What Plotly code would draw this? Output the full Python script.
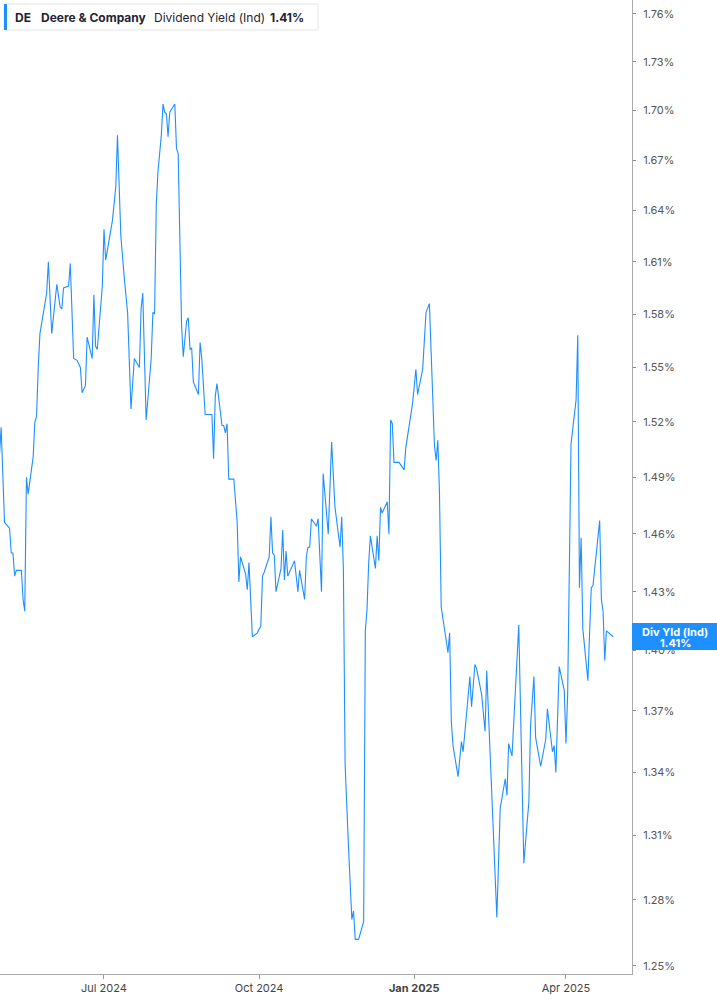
import plotly.graph_objects as go

# DE dividend yield (Ind)
dates = [
    "2024-04-30", "2024-05-01", "2024-05-03", "2024-05-06", "2024-05-07", "2024-05-08",
    "2024-05-09", "2024-05-10", "2024-05-13", "2024-05-14", "2024-05-15", "2024-05-16",
    "2024-05-17", "2024-05-20", "2024-05-21", "2024-05-22", "2024-05-23", "2024-05-24",
    "2024-05-28", "2024-05-29", "2024-05-31", "2024-06-03", "2024-06-05", "2024-06-06",
    "2024-06-07", "2024-06-10", "2024-06-11", "2024-06-13", "2024-06-15", "2024-06-17",
    "2024-06-18", "2024-06-20", "2024-06-21", "2024-06-24", "2024-06-25", "2024-06-26",
    "2024-06-27", "2024-06-30", "2024-07-01", "2024-07-02", "2024-07-06", "2024-07-08",
    "2024-07-09", "2024-07-11", "2024-07-13", "2024-07-15", "2024-07-17", "2024-07-19",
    "2024-07-22", "2024-07-23", "2024-07-24", "2024-07-26", "2024-07-29", "2024-07-30",
    "2024-07-31", "2024-08-01", "2024-08-02", "2024-08-04", "2024-08-05", "2024-08-06",
    "2024-08-07", "2024-08-08", "2024-08-09", "2024-08-12", "2024-08-13", "2024-08-14",
    "2024-08-16", "2024-08-17", "2024-08-19", "2024-08-20", "2024-08-21", "2024-08-22",
    "2024-08-23", "2024-08-26", "2024-08-27", "2024-08-28", "2024-08-30", "2024-09-03",
    "2024-09-04", "2024-09-05", "2024-09-06", "2024-09-09", "2024-09-10", "2024-09-11",
    "2024-09-12", "2024-09-13", "2024-09-16", "2024-09-18", "2024-09-19", "2024-09-20",
    "2024-09-23", "2024-09-24", "2024-09-25", "2024-09-27", "2024-09-30", "2024-10-01",
    "2024-10-02", "2024-10-03", "2024-10-04", "2024-10-07", "2024-10-08", "2024-10-09",
    "2024-10-10", "2024-10-11", "2024-10-14", "2024-10-15", "2024-10-16", "2024-10-17",
    "2024-10-18", "2024-10-22", "2024-10-24", "2024-10-25", "2024-10-28", "2024-10-29",
    "2024-10-30", "2024-10-31", "2024-11-01", "2024-11-04", "2024-11-05", "2024-11-07",
    "2024-11-08", "2024-11-11", "2024-11-13", "2024-11-15", "2024-11-18", "2024-11-19",
    "2024-11-20", "2024-11-21", "2024-11-23", "2024-11-25", "2024-11-26", "2024-11-27",
    "2024-11-29", "2024-12-02", "2024-12-03", "2024-12-04", "2024-12-05", "2024-12-06",
    "2024-12-09", "2024-12-10", "2024-12-11", "2024-12-12", "2024-12-13", "2024-12-16",
    "2024-12-17", "2024-12-18", "2024-12-19", "2024-12-20", "2024-12-23", "2024-12-26",
    "2024-12-27", "2024-12-30", "2024-12-31", "2025-01-02", "2025-01-03", "2025-01-06",
    "2025-01-08", "2025-01-10", "2025-01-12", "2025-01-13", "2025-01-14", "2025-01-15",
    "2025-01-16", "2025-01-17", "2025-01-20", "2025-01-21", "2025-01-22", "2025-01-23",
    "2025-01-24", "2025-01-27", "2025-01-29", "2025-01-30", "2025-02-03", "2025-02-04",
    "2025-02-06", "2025-02-07", "2025-02-10", "2025-02-12", "2025-02-13", "2025-02-15",
    "2025-02-19", "2025-02-21", "2025-02-24", "2025-02-25", "2025-02-26", "2025-02-28",
    "2025-03-04", "2025-03-07", "2025-03-10", "2025-03-11", "2025-03-13", "2025-03-14",
    "2025-03-17", "2025-03-20", "2025-03-21", "2025-03-24", "2025-03-25", "2025-03-26",
    "2025-03-28", "2025-03-31", "2025-04-01", "2025-04-02", "2025-04-03", "2025-04-04",
    "2025-04-07", "2025-04-08", "2025-04-09", "2025-04-10", "2025-04-11", "2025-04-14",
    "2025-04-16", "2025-04-17", "2025-04-21", "2025-04-22", "2025-04-23", "2025-04-24",
    "2025-04-25", "2025-04-29",
]
div_yield = [
    1.502, 1.517, 1.466, 1.463, 1.450, 1.450, 1.438, 1.441, 1.441, 1.426, 1.420, 1.490,
    1.481, 1.501, 1.520, 1.523, 1.550, 1.569, 1.592, 1.610, 1.569, 1.597, 1.584, 1.583,
    1.595, 1.596, 1.609, 1.555, 1.554, 1.550, 1.536, 1.540, 1.567, 1.555, 1.591, 1.562,
    1.560, 1.596, 1.629, 1.611, 1.634, 1.654, 1.685, 1.625, 1.601, 1.581, 1.527, 1.555,
    1.550, 1.583, 1.592, 1.521, 1.555, 1.581, 1.580, 1.643, 1.663, 1.685, 1.704, 1.699,
    1.698, 1.684, 1.699, 1.704, 1.677, 1.674, 1.574, 1.556, 1.576, 1.578, 1.560, 1.561,
    1.542, 1.535, 1.564, 1.555, 1.524, 1.524, 1.500, 1.534, 1.541, 1.518, 1.518, 1.514,
    1.519, 1.489, 1.489, 1.466, 1.435, 1.448, 1.439, 1.431, 1.445, 1.407, 1.409, 1.411,
    1.412, 1.438, 1.440, 1.448, 1.469, 1.450, 1.449, 1.430, 1.442, 1.462, 1.436, 1.451,
    1.438, 1.446, 1.430, 1.441, 1.426, 1.448, 1.453, 1.453, 1.468, 1.464, 1.468, 1.430,
    1.492, 1.460, 1.509, 1.474, 1.453, 1.469, 1.441, 1.344, 1.305, 1.271, 1.275, 1.262,
    1.262, 1.270, 1.410, 1.421, 1.445, 1.459, 1.442, 1.459, 1.446, 1.474, 1.471, 1.477,
    1.460, 1.521, 1.519, 1.498, 1.498, 1.494, 1.506, 1.524, 1.530, 1.549, 1.535, 1.549,
    1.581, 1.586, 1.539, 1.507, 1.499, 1.510, 1.481, 1.422, 1.405, 1.399, 1.409, 1.365,
    1.353, 1.338, 1.355, 1.350, 1.387, 1.372, 1.393, 1.391, 1.378, 1.360, 1.390, 1.349,
    1.272, 1.323, 1.337, 1.329, 1.354, 1.348, 1.413, 1.297, 1.326, 1.363, 1.387, 1.357,
    1.343, 1.356, 1.371, 1.350, 1.353, 1.340, 1.392, 1.380, 1.354, 1.378, 1.448, 1.508,
    1.532, 1.568, 1.432, 1.458, 1.411, 1.385, 1.432, 1.433, 1.467, 1.426, 1.420, 1.395,
    1.410, 1.407,
]

y_ticks = [1.25, 1.28, 1.31, 1.34, 1.37, 1.40, 1.43, 1.46, 1.49, 1.52, 1.55, 1.58,
           1.61, 1.64, 1.67, 1.70, 1.73, 1.76]
x_ticks = ["2024-07-01", "2024-10-01", "2025-01-01", "2025-04-01"]
x_tick_text = ["Jul 2024", "Oct 2024", "<b>Jan 2025</b>", "Apr 2025"]

blue = "#1e8fff"
font = "Inter, Roboto, sans-serif"

fig = go.Figure()
fig.add_trace(go.Scatter(
    x=dates,
    y=div_yield,
    mode="lines",
    line=dict(color=blue, width=1.1),
    showlegend=False,
    hoverinfo="skip",
))

fig.update_layout(
    width=717,
    height=1005,
    margin=dict(l=0, r=85, t=0, b=31),
    paper_bgcolor="white",
    plot_bgcolor="white",
    font=dict(family=font, size=11, color="#555555"),
    xaxis=dict(
        type="date",
        range=["2024-04-30 07:40", "2025-05-10 04:00"],
        tickmode="array",
        tickvals=x_ticks,
        ticktext=x_tick_text,
        ticks="outside",
        ticklen=4,
        tickcolor="#999999",
        showline=True,
        linecolor="#aaaaaa",
        linewidth=1,
        showgrid=False,
        zeroline=False,
        tickfont=dict(family=font, size=11, color="#444444"),
    ),
    yaxis=dict(
        type="log",
        side="right",
        range=[0.095649, 0.247697],
        tickmode="array",
        tickvals=y_ticks,
        ticktext=["{:.2f}%".format(v) for v in y_ticks],
        ticks="outside",
        ticklen=3,
        tickcolor="#888888",
        ticklabelstandoff=5,
        showline=True,
        linecolor="#aaaaaa",
        linewidth=1,
        showgrid=False,
        zeroline=False,
        tickfont=dict(family=font, size=11, color="#555555"),
    ),
)

# header box, top left
fig.add_shape(type="rect", xref="paper", yref="paper",
              x0=4 / 632, x1=318 / 632, y0=1 - 30 / 974, y1=1 - 4 / 974,
              line=dict(color="#e6e6e6", width=1), fillcolor="white", layer="above")
fig.add_shape(type="rect", xref="paper", yref="paper",
              x0=4 / 632, x1=7 / 632, y0=1 - 30 / 974, y1=1 - 4 / 974,
              line=dict(width=0), fillcolor=blue, layer="above")

header = [
    (13, "<b>DE</b>"),
    (39, "<b>Deere &amp; Company</b>"),
    (152, "Dividend Yield (Ind)"),
    (268, "<b>1.41%</b>"),
]
for px, txt in header:
    fig.add_annotation(x=px / 632, y=1 - 17 / 974, xref="paper", yref="paper",
                       xanchor="left", yanchor="middle", text=txt, showarrow=False,
                       font=dict(family=font, size=12, color="#1f2330"))

# last value label on the right axis
fig.add_shape(type="rect", xref="paper", yref="paper",
              x0=632 / 632, x1=717 / 632, y0=1 - 650 / 974, y1=1 - 623 / 974,
              line=dict(width=0), fillcolor=blue, layer="above")
fig.add_annotation(x=675 / 632, y=1 - 631.5 / 974, xref="paper", yref="paper",
                   xanchor="center", yanchor="middle", text="<b>Div Yld (Ind)</b>",
                   showarrow=False, font=dict(family=font, size=11, color="white"))
fig.add_annotation(x=675 / 632, y=1 - 643 / 974, xref="paper", yref="paper",
                   xanchor="center", yanchor="middle", text="<b>1.41%</b>",
                   showarrow=False, font=dict(family=font, size=11, color="white"))

# the page's default body margin would push the chart 8px right and down
fig.write_html("out.html", config={"displayModeBar": False},
               post_script="document.body.style.margin = '0px';")
